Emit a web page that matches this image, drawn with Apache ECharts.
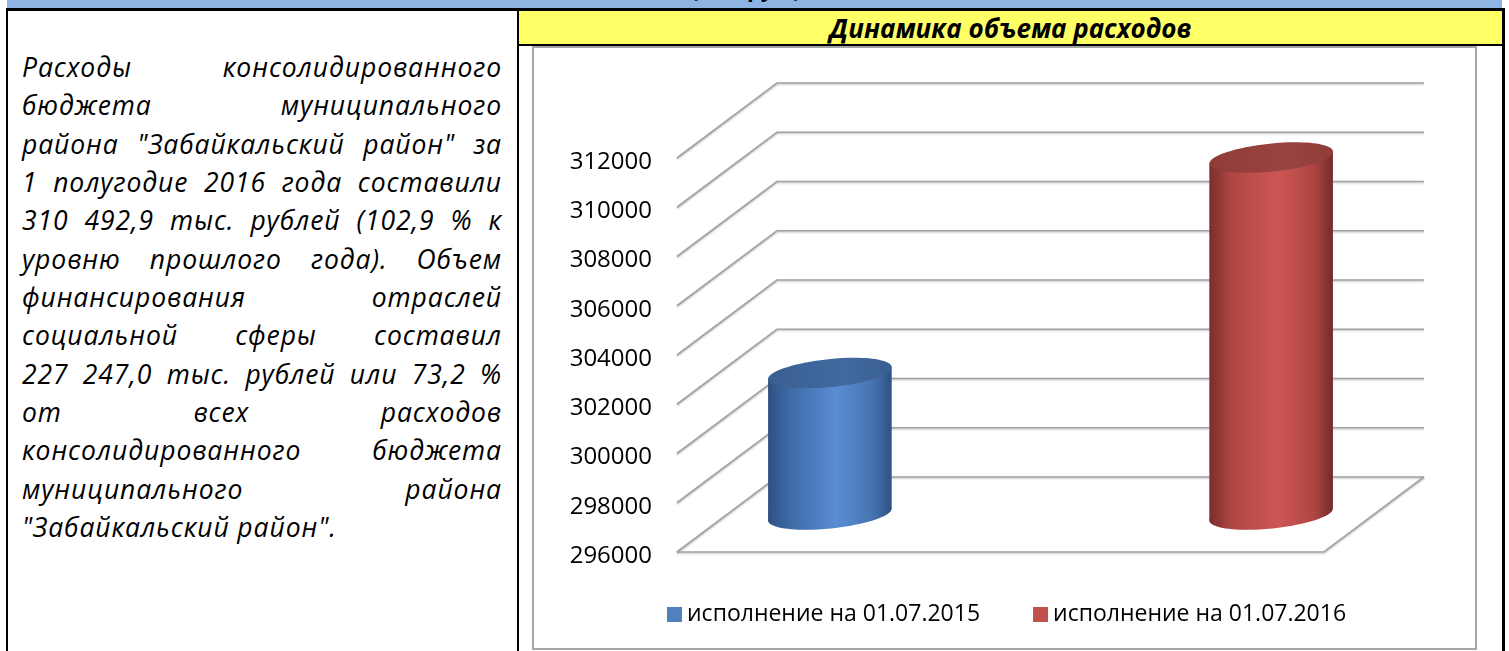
<!DOCTYPE html>
<html>
<head>
<meta charset="utf-8">
<script src="https://cdn.jsdelivr.net/npm/echarts@6/dist/echarts.min.js"></script>
<style>
  html, body { margin:0; padding:0; width:1509px; height:651px; overflow:hidden; background:#fff; }
  body { position:relative; font-family:"Open Sans", "Noto Sans", sans-serif; }
  .abs { position:absolute; }
  #topbar { left:7px; top:0; width:1495px; height:8px; background:#8DB4E2; overflow:hidden; }
  #topbar span { position:absolute; left:684px; top:-25px; font-weight:bold; font-size:22px; line-height:26px; color:#000; white-space:nowrap; }
  #yellow { left:519px; top:11px; width:983px; height:33px; background:#FFFF66; text-align:center;
            font-weight:bold; font-style:italic; font-size:26px; line-height:34px; color:#000; }
  #text { left:22px; top:48px; width:480px; font-style:italic; font-size:26.5px; letter-spacing:0.9px; line-height:38.33px; color:#000; }
  #text div { text-align:justify; text-align-last:justify; height:38.33px; white-space:nowrap; }
  #text div.last { text-align-last:left; }
  #chartbox { left:532px; top:46px; width:941px; height:600px; border:2px solid #a6a6a6; }
  #chart { position:absolute; left:0; top:0; width:941px; height:600px; }
</style>
</head>
<body>
<div id="topbar" class="abs"><span>(тыс.руб.)</span></div>
<div class="abs" style="left:6px;top:8px;width:1499px;height:3px;background:#000"></div>
<div class="abs" style="left:6px;top:8px;width:2px;height:643px;background:#000"></div>
<div class="abs" style="left:1502px;top:8px;width:3px;height:643px;background:#000"></div>
<div class="abs" style="left:517px;top:8px;width:2px;height:643px;background:#000"></div>
<div id="yellow" class="abs">Динамика объема расходов</div>
<div class="abs" style="left:517px;top:44px;width:988px;height:2px;background:#000"></div>
<div id="text" class="abs"></div>
<div id="chartbox" class="abs"><div id="chart"></div></div>
<script>
// ---- data ----
const textLines = [
  'Расходы консолидированного',
  'бюджета муниципального',
  'района "Забайкальский район" за',
  '1 полугодие 2016 года составили',
  '310 492,9 тыс. рублей (102,9 % к',
  'уровню прошлого года). Объем',
  'финансирования отраслей',
  'социальной сферы составил',
  '227 247,0 тыс. рублей или 73,2 %',
  'от всех расходов',
  'консолидированного бюджета',
  'муниципального района',
  '"Забайкальский район".'
];
const chartTitle = 'Динамика объема расходов';
const seriesNames = ['исполнение на 01.07.2015', 'исполнение на 01.07.2016'];
const seriesValues = [301742.4, 310492.9];
const categories = [''];
const yTicks = [296000, 298000, 300000, 302000, 304000, 306000, 308000, 310000, 312000];

// ---- text panel ----
const tp = document.getElementById('text');
textLines.forEach((l, i) => {
  const d = document.createElement('div');
  d.textContent = l;
  if (i === textLines.length - 1) d.className = 'last';
  tp.appendChild(d);
});

// ---- chart ----
const DX = 100, DY = -75;          // 3D depth offset (pixels)
const OFFS = [-0.341, 0.341];      // bar offsets within category band
const BARW = 0.192;                // bar width as fraction of band
const colors = ['#4F81BD', '#C0504D'];
const bodyStops = [
  [{offset:0,color:'#2f5183'},{offset:0.18,color:'#3f6aa6'},{offset:0.55,color:'#5a8dd3'},{offset:0.85,color:'#4673b0'},{offset:1,color:'#2f5183'}],
  [{offset:0,color:'#7a2e2c'},{offset:0.18,color:'#b04644'},{offset:0.55,color:'#cd5654'},{offset:0.85,color:'#ad4543'},{offset:1,color:'#742b29'}]
];
const topColors = [['#3a5f92','#416a9f'], ['#8f3c39','#9a4341']];

const gridStyle = { stroke:'#a3a3a3', lineWidth:1.7, fill:'none', shadowBlur:2, shadowColor:'rgba(0,0,0,0.25)', shadowOffsetY:1 };

function renderGrid(params, api) {
  const v = api.value(1);
  const cs = params.coordSys;
  const y = api.coord([0, v])[1];
  const x0 = cs.x, x1 = cs.x + cs.width;
  const ch = [{ type:'polyline', shape:{ points:[[x0,y],[x0+DX,y+DY],[x1+DX,y+DY]] }, style:gridStyle }];
  if (v === yTicks[0]) {
    ch.push({ type:'polyline', shape:{ points:[[x0,y],[x1,y],[x1+DX,y+DY]] }, style:gridStyle });
  }
  return { type:'group', children:ch };
}

function makeCyl(i) {
  return function (params, api) {
    const top = api.coord([api.value(0), api.value(1)]);
    const base = api.coord([api.value(0), yTicks[0]]);
    const band = api.size([1, 0])[0];
    const cx = top[0] + DX / 2 + OFFS[i] * band;
    const yT = top[1] + DY / 2, yB = base[1] + DY / 2;
    const rx = BARW * band / 2, ry = 14, th = 0.1;
    const ex = rx * Math.cos(th), ey = rx * Math.sin(th);
    const grad = { type:'linear', x:0, y:0, x2:1, y2:0, colorStops:bodyStops[i] };
    return { type:'group', children:[
      { type:'ellipse', x:cx, y:yB, rotation:th, shape:{cx:0, cy:0, rx:rx, ry:ry}, style:{ fill:grad } },
      { type:'polygon', shape:{ points:[[cx-ex, yT+ey],[cx+ex, yT-ey],[cx+ex, yB-ey],[cx-ex, yB+ey]] }, style:{ fill:grad } },
      { type:'ellipse', x:cx, y:yT, rotation:th, shape:{cx:0, cy:0, rx:rx, ry:ry},
        style:{ fill:{ type:'linear', x:0, y:0, x2:1, y2:0, colorStops:[{offset:0,color:topColors[i][0]},{offset:0.6,color:topColors[i][1]},{offset:1,color:topColors[i][0]}] } } }
    ]};
  };
}

const chart = echarts.init(document.getElementById('chart'), null, { renderer:'canvas' });
const FONT = '"Open Sans", "Noto Sans", sans-serif';
chart.setOption({
  animation:false,
  textStyle:{ fontFamily:FONT },
  grid:{ left:143, top:110, width:647, height:394, containLabel:false },
  xAxis:{ type:'category', data:categories, show:false },
  yAxis:{ type:'value', min:yTicks[0], max:yTicks[yTicks.length-1], interval:2000,
          axisLine:{show:false}, axisTick:{show:false}, splitLine:{show:false},
          axisLabel:{ color:'#000', fontSize:24, margin:25, fontFamily:FONT, verticalAlign:'top', lineHeight:8,
                      formatter:function (v) { return String(v); } } },
  legend:{ data:seriesNames, left:128, top:550, itemWidth:15, itemHeight:15, itemGap:53, icon:'rect',
           textStyle:{ color:'#000', fontSize:23, fontFamily:FONT } },
  series:[
    { type:'custom', name:'grid', silent:true, z:1, renderItem:renderGrid, data:yTicks.map(t => [0, t]) },
    ...seriesNames.map((n, i) => ({
      type:'custom', name:n, z:2, itemStyle:{ color:colors[i] }, renderItem:makeCyl(i),
      data:[[0, seriesValues[i]]]
    }))
  ]
});
</script>
</body>
</html>
